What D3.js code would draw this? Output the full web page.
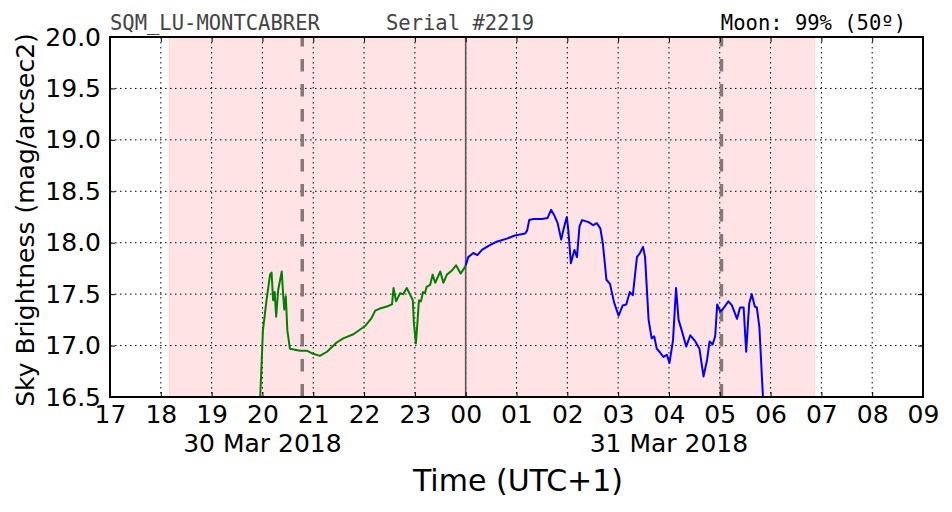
<!DOCTYPE html>
<html>
<head>
<meta charset="utf-8">
<script src="https://cdn.jsdelivr.net/npm/d3@7"></script>
<style>
  html, body { margin: 0; padding: 0; background: #fff; }
  svg { display: block; }
</style>
</head>
<body>
<svg id="chart" width="952" height="512"></svg>
<script>
// ---- data (hours since 00:00 of 30 Mar; >24 means 31 Mar) ----
const greenHours = [19.94, 20.01, 20.08, 20.15, 20.18, 20.21, 20.24, 20.27, 20.31, 20.38, 20.41, 20.43, 20.46, 20.49, 20.54, 20.74, 20.87, 21.00, 21.13, 21.27, 21.46, 21.59, 21.79, 22.02, 22.15, 22.22, 22.31, 22.45, 22.55, 22.58, 22.63, 22.71, 22.77, 22.84, 22.91, 22.96, 22.98, 23.02, 23.05, 23.08, 23.12, 23.16, 23.20, 23.23, 23.30, 23.35, 23.40, 23.50, 23.56, 23.63, 23.73, 23.81, 23.90, 23.97, 24.00];
const greenValues = [16.30, 17.15, 17.44, 17.69, 17.71, 17.44, 17.52, 17.28, 17.54, 17.72, 17.48, 17.35, 17.48, 17.15, 16.97, 16.95, 16.95, 16.92, 16.90, 16.94, 17.03, 17.07, 17.11, 17.19, 17.27, 17.34, 17.36, 17.38, 17.40, 17.56, 17.43, 17.51, 17.50, 17.56, 17.49, 17.44, 17.22, 17.02, 17.22, 17.44, 17.43, 17.52, 17.51, 17.57, 17.59, 17.69, 17.61, 17.72, 17.61, 17.69, 17.73, 17.78, 17.70, 17.75, 17.78];

const blueHours = [24.00, 24.05, 24.15, 24.23, 24.32, 24.45, 24.61, 24.81, 24.97, 25.17, 25.21, 25.25, 25.33, 25.50, 25.61, 25.68, 25.74, 25.81, 25.88, 25.94, 25.99, 26.02, 26.07, 26.14, 26.19, 26.24, 26.29, 26.42, 26.51, 26.58, 26.65, 26.70, 26.77, 26.84, 26.92, 27.01, 27.09, 27.16, 27.23, 27.29, 27.37, 27.43, 27.49, 27.53, 27.60, 27.66, 27.71, 27.76, 27.83, 27.89, 27.96, 28.01, 28.08, 28.14, 28.19, 28.25, 28.34, 28.42, 28.52, 28.60, 28.68, 28.75, 28.80, 28.86, 28.91, 28.95, 29.01, 29.07, 29.17, 29.24, 29.34, 29.40, 29.47, 29.52, 29.58, 29.63, 29.69, 29.73, 29.78, 29.85, 29.87];
const blueValues = [17.78, 17.86, 17.90, 17.88, 17.93, 17.97, 18.01, 18.04, 18.07, 18.09, 18.12, 18.22, 18.23, 18.23, 18.24, 18.32, 18.27, 18.19, 18.03, 18.16, 18.25, 18.12, 17.80, 17.93, 17.86, 18.16, 18.22, 18.20, 18.17, 18.19, 18.14, 17.99, 17.64, 17.60, 17.42, 17.29, 17.39, 17.40, 17.52, 17.49, 17.86, 17.90, 17.96, 17.86, 17.25, 17.07, 17.09, 16.97, 16.93, 16.89, 16.91, 16.83, 17.05, 17.56, 17.25, 17.15, 16.99, 17.10, 17.04, 16.97, 16.70, 16.86, 17.04, 17.01, 17.09, 17.40, 17.33, 17.36, 17.43, 17.39, 17.26, 17.37, 17.37, 16.94, 17.41, 17.50, 17.38, 17.37, 17.18, 16.50, 16.30];

const nightSpan = [18 + 10/60, 30 + 52/60];     // shaded night (18:10 -> 06:52)
const moonMarks = [20 + 47/60, 29 + 2/60];       // dashed grey lines
const midnight = [24];
const xTicks = d3.range(17, 34);
const xTickLabels = ["17","18","19","20","21","22","23","00","01","02","03","04","05","06","07","08","09"];
const yTicks = [16.5, 17.0, 17.5, 18.0, 18.5, 19.0, 19.5, 20.0];
const dateLabels = ["30 Mar 2018", "31 Mar 2018"];
const dateLabelHours = [20, 28];
const titleLeft = "SQM_LU-MONTCABRER";
const titleMid = "Serial #2219";
const titleRight = "Moon: 99% (50º)";

// ---- layout ----
const svg = d3.select("#chart");
const L = 110, R = 923, T = 37, B = 397;
const SANS = "'DejaVu Sans', sans-serif";
const MONO = "'DejaVu Sans Mono', monospace";
const x = d3.scaleLinear().domain([17, 33]).range([L, R]);
const y = d3.scaleLinear().domain([16.5, 20.0]).range([B, T]);

svg.append("defs").append("clipPath").attr("id", "clip")
  .append("rect").attr("x", L).attr("y", T).attr("width", R - L).attr("height", B - T);

// night shading
svg.append("rect")
  .attr("x", x(nightSpan[0])).attr("y", T)
  .attr("width", x(nightSpan[1]) - x(nightSpan[0])).attr("height", B - T)
  .attr("fill", "#ffe3e5").attr("stroke", "#ffd3d7").attr("stroke-width", 1);

// grid
const grid = svg.append("g").attr("stroke", "#000").attr("stroke-width", 1).attr("stroke-dasharray", "1.5,3.5");
grid.selectAll(".gx").data(xTicks.slice(1, -1)).join("line")
  .attr("x1", d => x(d)).attr("x2", d => x(d)).attr("y1", T).attr("y2", B);
grid.selectAll(".gy").data(yTicks.slice(1, -1)).join("line")
  .attr("y1", d => y(d)).attr("y2", d => y(d)).attr("x1", L).attr("x2", R);

// midnight line
svg.selectAll(".mid").data(midnight).join("line")
  .attr("x1", d => x(d)).attr("x2", d => x(d)).attr("y1", T).attr("y2", B)
  .attr("stroke", "#5f5556").attr("stroke-width", 1.6);

// moon dashed lines
svg.selectAll(".moon").data(moonMarks).join("line")
  .attr("x1", d => x(d)).attr("x2", d => x(d)).attr("y1", T).attr("y2", B)
  .attr("stroke", "#847878").attr("stroke-width", 3.5).attr("stroke-dasharray", "12.5,12.5")
  .attr("stroke-dashoffset", 3);

// data lines
const line = d3.line().x(d => x(d[0])).y(d => y(d[1]));
const gp = svg.append("g").attr("clip-path", "url(#clip)");
gp.append("path").datum(d3.zip(greenHours, greenValues)).attr("d", line)
  .attr("fill", "none").attr("stroke", "#008000").attr("stroke-width", 2).attr("stroke-linejoin", "round");
gp.append("path").datum(d3.zip(blueHours, blueValues)).attr("d", line)
  .attr("fill", "none").attr("stroke", "#0000ff").attr("stroke-width", 2).attr("stroke-linejoin", "round");

// axes
const fmtX = d => xTickLabels[xTicks.indexOf(d)];
const axB = svg.append("g").attr("transform", `translate(0,${B})`)
  .call(d3.axisBottom(x).tickValues(xTicks).tickFormat(fmtX).tickSizeInner(-5).tickSizeOuter(0).tickPadding(8));
const axT = svg.append("g").attr("transform", `translate(0,${T})`)
  .call(d3.axisTop(x).tickValues(xTicks).tickFormat("").tickSizeInner(-5).tickSizeOuter(0));
const axL = svg.append("g").attr("transform", `translate(${L},0)`)
  .call(d3.axisLeft(y).tickValues(yTicks).tickFormat(d3.format(".1f")).tickSizeInner(-5).tickSizeOuter(0).tickPadding(9));
const axR = svg.append("g").attr("transform", `translate(${R},0)`)
  .call(d3.axisRight(y).tickValues(yTicks).tickFormat("").tickSizeInner(-5).tickSizeOuter(0));
[axB, axT, axL, axR].forEach(a => {
  a.select(".domain").remove();
  a.selectAll(".tick line").attr("stroke", "#000").attr("stroke-width", 1);
  a.selectAll("text").style("font-family", SANS).style("font-size", "25px").attr("fill", "#000");
});

// frame
svg.append("rect").attr("x", L).attr("y", T).attr("width", R - L).attr("height", B - T)
  .attr("fill", "none").attr("stroke", "#000").attr("stroke-width", 2);

// date labels
svg.selectAll(".date").data(dateLabels).join("text")
  .attr("x", (d, i) => x(dateLabelHours[i])).attr("y", 452)
  .attr("text-anchor", "middle").style("font-family", SANS).style("font-size", "25px").text(d => d);

// axis titles
svg.append("text").attr("x", 518).attr("y", 491).attr("text-anchor", "middle")
  .style("font-family", SANS).style("font-size", "30px").text("Time (UTC+1)");
svg.append("text").attr("transform", `translate(34,220) rotate(-90)`)
  .attr("text-anchor", "middle").style("font-family", SANS).style("font-size", "25px")
  .text("Sky Brightness (mag/arcsec2)");

// header texts
svg.append("text").attr("x", 110).attr("y", 30).style("font-family", MONO).style("font-size", "20.5px")
  .attr("fill", "#444").text(titleLeft);
svg.append("text").attr("x", 386).attr("y", 30).style("font-family", MONO).style("font-size", "20.5px")
  .attr("fill", "#444").text(titleMid);
svg.append("text").attr("x", 906).attr("y", 30).attr("text-anchor", "end").style("font-family", MONO)
  .style("font-size", "20.5px").attr("fill", "#000").text(titleRight);
</script>
</body>
</html>
